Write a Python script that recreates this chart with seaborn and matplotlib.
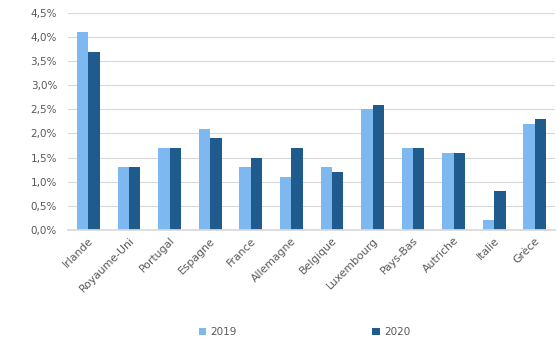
import matplotlib
matplotlib.use("Agg")
import matplotlib.pyplot as plt
import seaborn as sns
import pandas as pd
from matplotlib.ticker import FuncFormatter

pays = ["Irlande", "Royaume-Uni", "Portugal", "Espagne", "France", "Allemagne",
        "Belgique", "Luxembourg", "Pays-Bas", "Autriche", "Italie", "Grèce"]
v2019 = [4.1, 1.3, 1.7, 2.1, 1.3, 1.1, 1.3, 2.5, 1.7, 1.6, 0.2, 2.2]
v2020 = [3.7, 1.3, 1.7, 1.9, 1.5, 1.7, 1.2, 2.6, 1.7, 1.6, 0.8, 2.3]
annees = ["2019", "2020"]
yticks = [0, 0.5, 1.0, 1.5, 2.0, 2.5, 3.0, 3.5, 4.0, 4.5]

df = pd.DataFrame({
    "pays": pays * 2,
    "valeur": v2019 + v2020,
    "annee": [annees[0]] * len(pays) + [annees[1]] * len(pays),
})

sns.set_theme(style="white")
plt.rcParams['font.family'] = ['DejaVu Sans']

fig = plt.figure(figsize=(5.59, 3.41), dpi=100)
ax = fig.add_axes([0.122, 0.326, 0.871, 0.636])

sns.barplot(data=df, x="pays", y="valeur", hue="annee",
            palette=["#7db9f0", "#1f5b8c"], width=0.56, gap=0,
            saturation=1, linewidth=0, edgecolor="none", ax=ax, legend=True)

ax.set_ylim(0, 4.5)
ax.set_yticks(yticks)
ax.yaxis.set_major_formatter(FuncFormatter(lambda v, p: f"{v:.1f}%".replace(".", ",")))
ax.grid(axis="y", color="#d9d9d9", linewidth=0.8)
ax.set_axisbelow(True)
for s in ["top", "right", "left"]:
    ax.spines[s].set_visible(False)
ax.spines["bottom"].set_color("#d9d9d9")
ax.set_xlabel("")
ax.set_ylabel("")
ax.tick_params(axis="y", labelsize=7.5, labelcolor="#595959", length=0, pad=8)
ax.tick_params(axis="x", labelsize=7.8, labelcolor="#595959", length=0, pad=4)
for lab in ax.get_xticklabels():
    lab.set_rotation(45)
    lab.set_ha("right")
    lab.set_rotation_mode("anchor")

h, l = ax.get_legend_handles_labels()
ax.legend_.remove()
fig.legend(h, l, loc="center", bbox_to_anchor=(0.545, 0.025), ncol=2,
           frameon=False, fontsize=7.5, columnspacing=13, handlelength=0.7,
           handleheight=0.7, handletextpad=0.4, labelcolor="#595959")

fig.savefig("out.png", dpi=100)
